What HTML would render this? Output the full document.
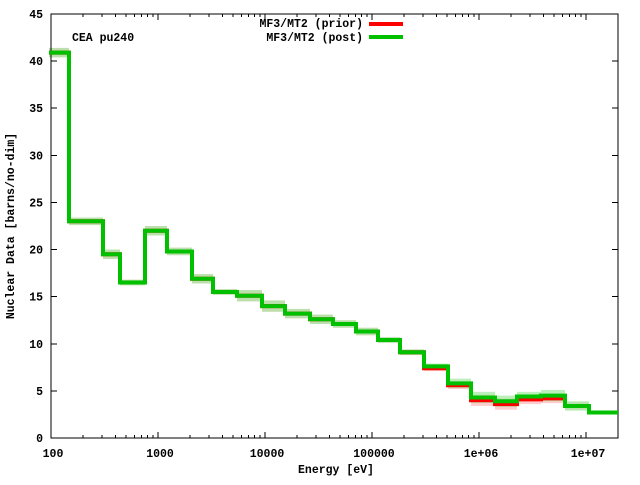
<!DOCTYPE html>
<html><head><meta charset="utf-8"><style>
html,body{margin:0;padding:0;background:#fff;}
svg text{font-family:"Liberation Mono",monospace;font-weight:bold;font-size:11.5px;fill:#000;}
</style></head><body>
<svg id="s" width="640" height="480" xmlns="http://www.w3.org/2000/svg">
<g id="bands"></g>
<g id="axes" stroke="#000" stroke-width="1" fill="none" shape-rendering="crispEdges"></g>
<g id="lines"></g>
<text x="72" y="41">CEA pu240</text>
<text x="363" y="27" text-anchor="end">MF3/MT2 (prior)</text>
<text x="363" y="41" text-anchor="end">MF3/MT2 (post)</text>
<line x1="369" y1="24" x2="403" y2="24" stroke="#ff0000" stroke-width="4"/>
<line x1="369" y1="37" x2="403" y2="37" stroke="#00c000" stroke-width="4"/>
<text x="336" y="473" text-anchor="middle">Energy [eV]</text>
<text transform="translate(14,226) rotate(-90)" text-anchor="middle">Nuclear Data [barns/no-dim]</text>
<g id="labels"></g>
</svg>
<script>
var L=51,R=618,T=14,B=438,dec=107;
function X(e){return L+(Math.log10(e)-2)*dec;}
function Y(v){return B-v*(B-T)/45;}
var ax=document.getElementById('axes'),lb=document.getElementById('labels');
var h='<rect x="'+L+'" y="'+T+'" width="'+(R-L)+'" height="'+(B-T)+'"/>';
for(var v=0;v<=45;v+=5){var y=Y(v);h+='<line x1="'+L+'" y1="'+y+'" x2="'+(L+6)+'" y2="'+y+'"/><line x1="'+R+'" y1="'+y+'" x2="'+(R-6)+'" y2="'+y+'"/>';
lb.innerHTML+='<text x="43" y="'+(y+4)+'" text-anchor="end">'+v+'</text>';}
var names=['100','1000','10000','100000','1e+06','1e+07'];
for(var d=2;d<=7;d++){for(var m=1;m<10;m++){var e=m*Math.pow(10,d);var x=X(e);if(x>R)break;var len=m==1?6:3;
h+='<line x1="'+x+'" y1="'+B+'" x2="'+x+'" y2="'+(B-len)+'"/><line x1="'+x+'" y1="'+T+'" x2="'+x+'" y2="'+(T+len)+'"/>';}
lb.innerHTML+='<text x="'+(X(Math.pow(10,d))+2)+'" y="457" text-anchor="middle">'+names[d-2]+'</text>';}
ax.innerHTML=h;
var xs=[49,69,103,120,145,167,192,213,237,262,285,310,333,356,378,400,424,448,471,495,517,541,565,589,618];
var post=[40.9,23.0,19.5,16.5,22.0,19.8,16.9,15.5,15.1,14.0,13.2,12.6,12.1,11.3,10.4,9.1,7.6,5.8,4.3,3.9,4.4,4.5,3.4,2.7];
var prior=[40.9,23.0,19.5,16.5,22.0,19.8,16.9,15.5,15.1,14.0,13.2,12.6,12.1,11.3,10.4,9.1,7.4,5.6,4.0,3.6,4.1,4.2,3.4,2.7];
var perr=[0.5,0.4,0.5,0.3,0.5,0.4,0.5,0.3,0.6,0.6,0.5,0.5,0.4,0.4,0.3,0.3,0.3,0.4,0.6,0.6,0.5,0.5,0.4,0.2];
var gerr=[0.5,0.4,0.5,0.3,0.5,0.4,0.5,0.3,0.6,0.6,0.5,0.5,0.4,0.4,0.3,0.3,0.3,0.5,0.6,0.6,0.5,0.6,0.5,0.2];
var b='';
for(var i=0;i<post.length;i++){
b+='<rect x="'+xs[i]+'" y="'+Y(prior[i]+perr[i])+'" width="'+(xs[i+1]-xs[i])+'" height="'+(Y(0)-Y(2*perr[i]))+'" fill="#ffc0c0" opacity="0.8"/>';
b+='<rect x="'+xs[i]+'" y="'+Y(post[i]+gerr[i])+'" width="'+(xs[i+1]-xs[i])+'" height="'+(Y(0)-Y(2*gerr[i]))+'" fill="#a0e8a0" opacity="0.7"/>';}
document.getElementById('bands').innerHTML=b;
function path(a){var p='M'+xs[0]+' '+Y(a[0]);for(var i=0;i<a.length;i++){p+=' H'+xs[i+1];if(i+1<a.length)p+=' V'+Y(a[i+1]);}return p;}
document.getElementById('lines').innerHTML='<path d="'+path(prior)+'" fill="none" stroke="#ff0000" stroke-width="4"/><path d="'+path(post)+'" fill="none" stroke="#00c000" stroke-width="4"/>';
</script>
</body></html>
